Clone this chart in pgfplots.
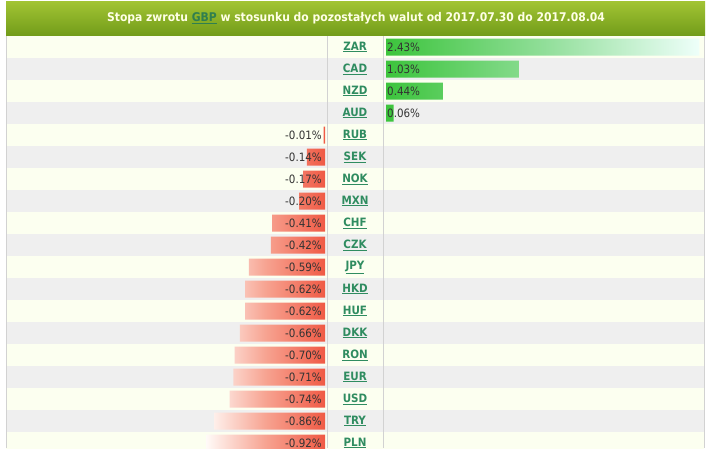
\documentclass[border=0pt]{standalone}
\usepackage{pgfplots}
\pgfplotsset{compat=1.18}
\usepackage{pgfplotstable}
\usepackage{fontspec}
\setmainfont{DejaVu Sans Condensed}

\definecolor{hdrtop}{HTML}{A2C434}
\definecolor{hdrbot}{HTML}{739D1A}
\definecolor{titlec}{HTML}{FFFFE6}
\definecolor{gbpc}{HTML}{2F7F4F}
\definecolor{rowA}{HTML}{FCFFF0}
\definecolor{rowB}{HTML}{EFEFEF}
\definecolor{gridc}{HTML}{D2D2D2}
\definecolor{curc}{HTML}{2F8C60}
\definecolor{valc}{HTML}{333333}
\definecolor{greenS}{HTML}{3CC43C}
\definecolor{greenM}{HTML}{90DE98}
\definecolor{greenE}{HTML}{EEFFFA}
\definecolor{redS}{HTML}{F05A45}
\definecolor{redM}{HTML}{F7A391}
\definecolor{redE}{HTML}{FFFAF7}

\pgfplotstableread{
y val lab
0 2.43 2.43\%
1 1.03 1.03\%
2 0.44 0.44\%
3 0.06 0.06\%
}\posdata

\pgfplotstableread{
y val lab
4 -0.01 -0.01\%
5 -0.14 -0.14\%
6 -0.17 -0.17\%
7 -0.20 -0.20\%
8 -0.41 -0.41\%
9 -0.42 -0.42\%
10 -0.59 -0.59\%
11 -0.62 -0.62\%
12 -0.62 -0.62\%
13 -0.66 -0.66\%
14 -0.70 -0.70\%
15 -0.71 -0.71\%
16 -0.74 -0.74\%
17 -0.86 -0.86\%
18 -0.92 -0.92\%
}\negdata

\begin{document}
\begin{tikzpicture}
\useasboundingbox (0,0) rectangle (710pt,-448pt);
\clip (0,0) rectangle (710pt,-448pt);
\fill[white] (0,0) rectangle (710pt,-448pt);
% row stripes
\foreach \i in {0,...,18} {
  \pgfmathsetmacro\yt{-36-22*\i}
  \pgfmathsetmacro\yb{-58-22*\i}
  \ifodd\i
    \fill[rowB] (6pt,\yt pt) rectangle (704pt,\yb pt);
  \else
    \fill[rowA] (6pt,\yt pt) rectangle (704pt,\yb pt);
  \fi
  \draw[gridc, line width=1pt] (6pt,\yb pt) -- (704pt,\yb pt);
}
\draw[gridc, line width=1pt] (6.5pt,-35pt) -- (6.5pt,-448pt);
\draw[gridc, line width=1pt] (327pt,-35pt) -- (327pt,-448pt);
\draw[gridc, line width=1pt] (383pt,-35pt) -- (383pt,-448pt);
\draw[gridc, line width=1pt] (704pt,-35pt) -- (704pt,-448pt);
% header
\shade[top color=hdrtop, bottom color=hdrbot] (6pt,-1pt) rectangle (705pt,-35pt);
\node[text=titlec, font=\bfseries\fontsize{12}{14}\selectfont] at (356pt,-18pt)
  {Stopa zwrotu \textcolor{gbpc}{\underline{GBP}} w stosunku do pozostałych walut od 2017.07.30 do 2017.08.04};

% left (negative) axis
\begin{axis}[at={(6pt,-36pt)}, anchor=north west, scale only axis,
  width=319pt, height=418pt,
  xmin=-2.4729, xmax=0, ymin=-0.5, ymax=18.5, y dir=reverse,
  axis line style={draw=none}, xtick=\empty,
  ytick={0,...,18},
  yticklabels={\underline{ZAR},\underline{CAD},\underline{NZD},\underline{AUD},\underline{RUB},\underline{SEK},\underline{NOK},\underline{MXN},\underline{CHF},\underline{CZK},\underline{JPY},\underline{HKD},\underline{HUF},\underline{DKK},\underline{RON},\underline{EUR},\underline{USD},\underline{TRY},\underline{PLN}},
  yticklabel pos=right, major tick length=0pt,
  yticklabel style={anchor=center, xshift=30pt, text=curc,
    font=\bfseries\fontsize{11.5}{13}\selectfont},
  clip=false]
\addplot[xbar, bar width=17pt, draw=none, left color=redE, right color=redS, middle color=redM]
  table[x=val, y=y] {\negdata};
\addplot[draw=none, mark=none, nodes near coords, point meta=explicit symbolic,
  every node near coord/.style={anchor=east, xshift=-2pt, inner sep=1pt, text=valc,
    font=\fontsize{11.5}{13}\selectfont}]
  table[x expr=0, y=y, meta=lab] {\negdata};
\end{axis}

% right (positive) axis
\begin{axis}[at={(383pt,-36pt)}, anchor=north west, scale only axis,
  width=321pt, height=418pt,
  xmin=-0.02326, xmax=2.4651, ymin=-0.5, ymax=18.5, y dir=reverse,
  axis line style={draw=none}, xtick=\empty, ytick=\empty,
  clip=false]
\addplot[xbar, bar width=17pt, draw=none, left color=greenS, right color=greenE, middle color=greenM]
  table[x=val, y=y] {\posdata};
\addplot[draw=none, mark=none, nodes near coords, point meta=explicit symbolic,
  every node near coord/.style={anchor=west, xshift=0pt, inner sep=1pt, text=valc,
    font=\fontsize{11.5}{13}\selectfont}]
  table[x expr=0, y=y, meta=lab] {\posdata};
\end{axis}
\end{tikzpicture}
\end{document}
